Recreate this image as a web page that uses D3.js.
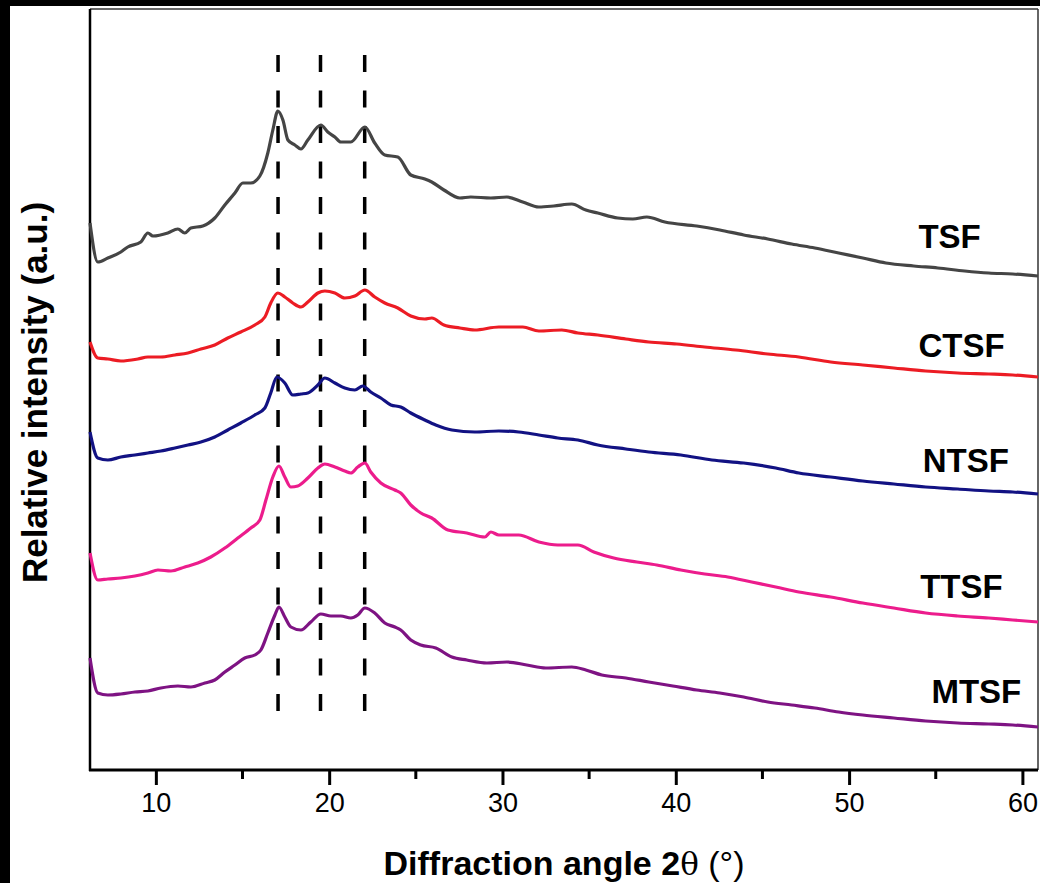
<!DOCTYPE html>
<html>
<head>
<meta charset="utf-8">
<script src="https://cdn.jsdelivr.net/npm/d3@7"></script>
<style>
  html, body { margin: 0; padding: 0; background: #000; }
  svg { display: block; }
</style>
</head>
<body>
<svg id="chart" width="1040" height="883"></svg>
<script>
// XRD patterns, [2θ (°), relative intensity (a.u., stacked offsets)]
const TSF = [[6.2,547],[6.65,508],[7.23,512],[7.98,518],[8.38,523],[9.13,528],[9.54,537],[9.83,534],[10.69,537],[11.27,541],[11.67,537],[12.02,542],[12.71,544],[13.40,552],[13.98,565],[14.56,577],[15.02,587],[15.48,587],[16.00,594],[16.46,617],[16.75,640],[17.04,659],[17.33,650],[17.62,630],[18.02,625],[18.37,621],[18.77,630],[19.52,645],[19.92,638],[20.33,633],[20.67,628],[21.25,628],[22.06,643],[22.63,627],[23.21,615],[23.96,613],[24.71,595],[25.52,591],[25.92,588],[26.62,580],[27.54,572],[28.17,573],[29.33,572],[30.25,573],[31.17,568],[32.10,563],[32.96,564],[34.00,566],[34.81,560],[35.50,557],[36.65,552],[37.52,551],[38.33,553],[39.37,548],[41.21,544],[42.54,540],[43.92,535],[45.31,531],[46.69,526],[48.02,522],[49.40,517],[50.79,512],[52.12,507],[53.73,504],[55.12,502],[56.67,499],[58.06,497],[59.44,496],[60.9,494]];
const CTSF = [[6.2,428],[6.65,412],[7.23,411],[7.98,409],[8.96,411],[9.54,413],[10.29,413],[11.10,415],[11.85,417],[12.60,421],[13.40,425],[14.15,432],[14.90,438],[15.71,445],[16.29,453],[16.63,467],[17.04,477],[17.44,473],[17.90,467],[18.37,463],[18.77,468],[19.35,477],[19.75,479],[20.33,477],[20.90,472],[21.48,474],[22.06,480],[22.63,473],[23.21,467],[23.96,462],[24.71,454],[25.52,451],[25.92,452],[26.62,445],[27.54,442],[28.40,440],[29.79,443],[31.17,443],[32.10,439],[33.42,440],[34.35,437],[35.50,435],[37.12,431],[38.44,428],[40.06,426],[41.67,423],[43.46,420],[45.31,416],[47.10,413],[48.94,408],[50.79,405],[52.58,402],[54.42,399],[56.27,397],[58.06,396],[59.44,395],[60.9,393]];
const NTSF = [[6.2,338],[6.65,312],[7.23,310],[7.98,313],[8.79,315],[9.54,317],[10.29,319],[11.10,322],[11.85,325],[12.60,328],[13.40,333],[14.15,340],[14.90,347],[15.71,355],[16.29,362],[16.63,377],[16.98,393],[17.44,387],[17.90,375],[18.37,376],[18.77,377],[19.35,385],[19.75,392],[20.33,387],[20.90,382],[21.48,380],[21.94,384],[22.40,378],[22.98,372],[23.56,365],[24.13,363],[24.71,357],[25.52,350],[26.15,345],[27.08,340],[28.40,338],[29.79,339],[30.94,338],[32.10,335],[33.19,332],[34.35,330],[35.50,325],[37.12,321],[38.44,318],[40.29,315],[42.08,310],[43.92,307],[45.77,302],[47.10,297],[48.94,293],[50.79,289],[52.58,286],[54.42,283],[56.27,281],[58.06,279],[59.44,278],[60.9,276]];
const TTSF = [[6.2,217],[6.65,190],[7.23,191],[7.98,192],[8.79,194],[9.54,197],[10.12,200],[10.87,199],[11.67,203],[12.42,207],[13.17,213],[13.98,222],[14.73,232],[15.48,242],[16.00,250],[16.35,270],[16.75,293],[17.10,304],[17.44,293],[17.79,283],[18.19,284],[18.77,292],[19.35,302],[19.75,306],[20.33,303],[20.90,299],[21.25,297],[21.65,303],[22.06,307],[22.40,298],[22.98,287],[23.79,280],[24.13,277],[24.71,265],[25.29,257],[25.92,252],[26.85,240],[27.94,237],[28.98,233],[29.33,238],[29.79,235],[30.94,235],[32.10,228],[33.19,225],[34.35,225],[35.27,218],[36.42,212],[37.75,208],[38.90,205],[40.29,200],[41.67,196],[43.00,193],[44.38,188],[45.77,183],[47.10,178],[48.94,173],[50.79,167],[52.58,162],[54.42,157],[56.27,154],[58.06,152],[59.44,150],[60.9,148]];
const MTSF = [[6.2,112],[6.65,77],[7.23,75],[7.98,76],[8.79,78],[9.54,79],[10.29,82],[11.27,84],[12.02,83],[12.83,87],[13.40,90],[13.98,98],[14.56,105],[15.13,112],[15.71,115],[16.06,120],[16.46,137],[16.87,155],[17.10,163],[17.44,153],[17.79,143],[18.37,140],[18.94,148],[19.52,156],[20.10,154],[20.67,154],[21.25,152],[21.65,155],[22.06,162],[22.63,157],[23.21,147],[23.79,143],[24.13,140],[24.71,130],[25.29,125],[26.15,122],[27.08,113],[27.94,110],[29.10,107],[30.25,108],[31.40,105],[32.50,102],[34.00,103],[34.81,100],[35.73,95],[37.12,92],[38.44,88],[39.83,84],[41.21,80],[42.54,77],[43.92,73],[45.31,68],[46.69,65],[48.02,62],[49.40,58],[50.79,55],[52.58,52],[54.42,49],[56.27,47],[58.06,46],[59.44,45],[60.9,43]];

const seriesNames = ["TSF", "CTSF", "NTSF", "TTSF", "MTSF"];
const seriesData = [TSF, CTSF, NTSF, TTSF, MTSF];
const seriesColors = ["#454545", "#ec1c24", "#121283", "#ec1c8c", "#7e1383"];
// label anchor point for each pattern, in data units [2θ, intensity]
const labelAt = [[54.0, 522], [54.0, 413], [54.25, 298], [54.1, 172], [54.75, 67]];

const peakAngles = [17.05, 19.5, 22.05];      // characteristic reflections
const peakSpan = [58, 715];                   // vertical extent of the guide lines

const xTicks = [10, 20, 30, 40, 50, 60];
const xMinorTicks = [15, 25, 35, 45, 55];

const svg = d3.select("#chart");
const W = 1040, H = 883;
const plot = { left: 90, right: 1038, top: 9, bottom: 770 };

svg.append("rect").attr("x", 10).attr("y", 6).attr("width", W - 10).attr("height", H - 6).attr("fill", "#fff");

const x = d3.scaleLinear().domain([6.2, 60.9]).range([plot.left, plot.right]);
const y = d3.scaleLinear().domain([0, 761]).range([plot.bottom, plot.top]);

// frame: thin top/right, heavier left/bottom axes
svg.append("line").attr("x1", plot.left).attr("x2", plot.right).attr("y1", plot.top).attr("y2", plot.top)
  .attr("stroke", "#333").attr("stroke-width", 1.5);
svg.append("line").attr("x1", plot.right).attr("x2", plot.right).attr("y1", plot.top).attr("y2", plot.bottom)
  .attr("stroke", "#333").attr("stroke-width", 1.5);
svg.append("line").attr("x1", plot.left).attr("x2", plot.left).attr("y1", plot.top).attr("y2", plot.bottom + 1)
  .attr("stroke", "#000").attr("stroke-width", 2.5);

// dashed guide lines at the peak positions
svg.append("g").selectAll("line").data(peakAngles).join("line")
  .attr("x1", d => x(d)).attr("x2", d => x(d))
  .attr("y1", y(peakSpan[1])).attr("y2", y(peakSpan[0]))
  .attr("stroke", "#000").attr("stroke-width", 3.5)
  .attr("stroke-dasharray", "17,18.5");

// diffraction patterns
const line = d3.line().x(d => x(d[0])).y(d => y(d[1])).curve(d3.curveMonotoneX);
svg.append("g").selectAll("path").data(seriesData).join("path")
  .attr("d", line)
  .attr("fill", "none")
  .attr("stroke", (d, i) => seriesColors[i])
  .attr("stroke-width", 3.2)
  .attr("stroke-linejoin", "round");

// sample labels
svg.append("g").selectAll("text").data(seriesNames).join("text")
  .attr("x", (d, i) => x(labelAt[i][0]))
  .attr("y", (d, i) => y(labelAt[i][1]))
  .attr("font-family", "Liberation Sans, Arial, sans-serif")
  .attr("font-weight", "bold")
  .attr("font-size", 33)
  .attr("fill", "#000")
  .text(d => d);

// x axis
const xAxis = d3.axisBottom(x).tickValues(xTicks).tickSize(15).tickPadding(8).tickFormat(d3.format("d"));
const gx = svg.append("g").attr("transform", `translate(0,${plot.bottom})`).call(xAxis);
gx.attr("font-size", 27).attr("font-family", "Liberation Sans, Arial, sans-serif");
gx.select(".domain").attr("stroke", "#000").attr("stroke-width", 3).attr("d", `M${plot.left - 1},0H${plot.right}`);
gx.selectAll(".tick line").attr("stroke", "#000").attr("stroke-width", 3);
gx.selectAll(".tick text").attr("font-size", 27).attr("fill", "#000");

svg.append("g").attr("transform", `translate(0,${plot.bottom})`)
  .selectAll("line").data(xMinorTicks).join("line")
  .attr("x1", d => x(d)).attr("x2", d => x(d)).attr("y1", 0).attr("y2", 9)
  .attr("stroke", "#000").attr("stroke-width", 3);

// axis titles
const xt = svg.append("text")
  .attr("x", (plot.left + plot.right) / 2).attr("y", 875)
  .attr("text-anchor", "middle")
  .attr("font-family", "Liberation Sans, Arial, sans-serif")
  .attr("font-size", 34).attr("font-weight", "bold").attr("fill", "#000");
xt.append("tspan").text("Diffraction angle 2");
xt.append("tspan").attr("font-weight", "normal").attr("font-family", "DejaVu Serif, Liberation Serif, serif").attr("font-size", 31).text("θ");
xt.append("tspan").attr("font-weight", "normal").text(" (°)");

svg.append("text")
  .attr("transform", `translate(47,${(plot.top + plot.bottom) / 2 + 3}) rotate(-90)`)
  .attr("text-anchor", "middle")
  .attr("font-family", "Liberation Sans, Arial, sans-serif")
  .attr("font-size", 35).attr("font-weight", "bold").attr("fill", "#000")
  .text("Relative intensity (a.u.)");
</script>
</body>
</html>
